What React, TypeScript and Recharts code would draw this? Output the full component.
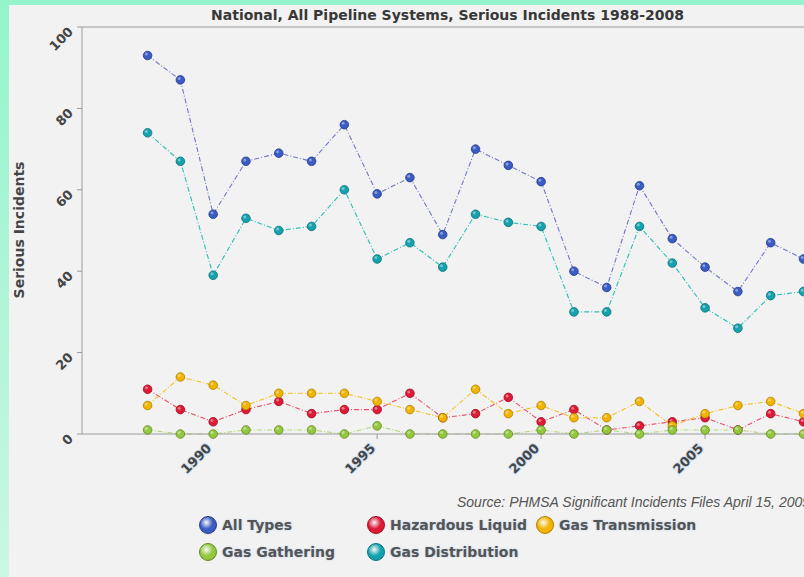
import { LineChart, Line, XAxis, YAxis, ReferenceLine } from 'recharts'

const years = [1988, 1989, 1990, 1991, 1992, 1993, 1994, 1995, 1996, 1997, 1998, 1999, 2000, 2001, 2002, 2003, 2004, 2005, 2006, 2007, 2008]
const allTypes = [93, 87, 54, 67, 69, 67, 76, 59, 63, 49, 70, 66, 62, 40, 36, 61, 48, 41, 35, 47, 43]
const hazardousLiquid = [11, 6, 3, 6, 8, 5, 6, 6, 10, 4, 5, 9, 3, 6, 1, 2, 3, 4, 1, 5, 3]
const gasTransmission = [7, 14, 12, 7, 10, 10, 10, 8, 6, 4, 11, 5, 7, 4, 4, 8, 2, 5, 7, 8, 5]
const gasGathering = [1, 0, 0, 1, 1, 1, 0, 2, 0, 0, 0, 0, 1, 0, 1, 0, 1, 1, 1, 0, 0]
const gasDistribution = [74, 67, 39, 53, 50, 51, 60, 43, 47, 41, 54, 52, 51, 30, 30, 51, 42, 31, 26, 34, 35]
const xTicks = [1990, 1995, 2000, 2005]
const yTicks = [0, 20, 40, 60, 80, 100]

const series = [
  { key: 'allTypes', name: 'All Types', line: '#6f78c8', fill: '#3a5cc4', edge: '#22388c' },
  { key: 'hazardousLiquid', name: 'Hazardous Liquid', line: '#ea4d66', fill: '#de1a36', edge: '#9a0c20' },
  { key: 'gasTransmission', name: 'Gas Transmission', line: '#f5c126', fill: '#f2b400', edge: '#b07f00' },
  { key: 'gasGathering', name: 'Gas Gathering', line: '#b3da7c', fill: '#93c83e', edge: '#5f8a20' },
  { key: 'gasDistribution', name: 'Gas Distribution', line: '#2bbfb5', fill: '#14a3ae', edge: '#0a6e78' },
]

const data = years.map((year, i) => ({
  year,
  allTypes: allTypes[i],
  hazardousLiquid: hazardousLiquid[i],
  gasTransmission: gasTransmission[i],
  gasGathering: gasGathering[i],
  gasDistribution: gasDistribution[i],
}))

const font = '"DejaVu Sans", sans-serif'
const textColor = '#454545'

function makeDot(fill: string, edge: string) {
  return (props: any) => {
    const { cx, cy, index } = props
    if (cx == null || cy == null) return <g key={index} />
    return (
      <g key={index}>
        <circle cx={cx} cy={cy} r={4.3} fill={fill} stroke={edge} strokeWidth={0.8} />
        <circle cx={cx - 1.2} cy={cy - 1.4} r={1.5} fill="#fff" opacity={0.4} />
      </g>
    )
  }
}

function YTick(props: any) {
  const { x, y, payload } = props
  const ax = x - 1
  const ay = y + 5.5
  return (
    <text x={ax} y={ay} transform={`rotate(-45 ${ax} ${ay})`} textAnchor="end"
      fontFamily={font} fontWeight="bold" fontSize={13} fill={textColor}>
      {payload.value}
    </text>
  )
}

function XTick(props: any) {
  const { x, y, payload } = props
  const ax = x - 1
  const ay = y + 8
  return (
    <text x={ax} y={ay} transform={`rotate(-45 ${ax} ${ay})`} textAnchor="end"
      fontFamily={font} fontWeight="bold" fontSize={13} fill={textColor}
      stroke="#cfe0f2" strokeWidth={2} paintOrder="stroke">
      {payload.value}
    </text>
  )
}

const legendRows = [
  [series[0], series[1], series[2]],
  [series[3], series[4]],
]
const legendX = [190, 358, 527]

export default function App() {
  return (
    <div style={{
      position: 'absolute', left: 0, top: 0, width: 804, height: 577, overflow: 'hidden',
      background: 'linear-gradient(180deg, #94f5cc 0%, #b4f5da 60%, #c9f7e4 100%)',
    }}>
      <div style={{ position: 'absolute', left: 9, top: 5, width: 840, height: 600, background: '#f2f2f2' }}>
        <LineChart width={830} height={572} data={data} margin={{ top: 22, right: 27, left: 0, bottom: 83 }}>
          <XAxis dataKey="year" type="number" domain={[1986, 2008.26]} ticks={xTicks} interval={0}
            axisLine={{ stroke: '#9a9a9a' }} tickLine={{ stroke: '#9a9a9a' }} tickSize={5}
            height={60} tick={<XTick />} allowDataOverflow />
          <YAxis domain={[0, 100]} ticks={yTicks} interval={0} width={73}
            axisLine={{ stroke: '#9a9a9a' }} tickLine={{ stroke: '#9a9a9a' }} tickSize={5}
            tick={<YTick />} />
          <ReferenceLine y={100} stroke="#9a9a9a" />
          {series.map((s) => (
            <Line key={s.key} dataKey={s.key} name={s.name} type="linear" stroke={s.line}
              strokeWidth={1.1} strokeDasharray="5 2 1 2" dot={makeDot(s.fill, s.edge)}
              activeDot={false} isAnimationActive={false} />
          ))}
        </LineChart>
        <svg width={840} height={600} style={{ position: 'absolute', left: 0, top: 0, pointerEvents: 'none' }}>
          <text x={438.5} y={15} textAnchor="middle" fontFamily={font} fontWeight="bold" fontSize={14} fill="#383838">
            National, All Pipeline Systems, Serious Incidents 1988-2008
          </text>
          <text x={10} y={225} transform="rotate(-90 10 225)" textAnchor="middle" dominantBaseline="central"
            fontFamily={font} fontWeight="bold" fontSize={14} fill={textColor}>
            Serious Incidents
          </text>
          <text x={448} y={502} fontFamily='"Liberation Sans", Arial, sans-serif' fontStyle="italic" fontSize={14} fill="#555">
            Source: PHMSA Significant Incidents Files April 15, 2009
          </text>
        </svg>
        {legendRows.map((row, r) => row.map((s, c) => (
          <div key={s.key} style={{
            position: 'absolute', left: legendX[c], top: 511 + r * 27, height: 18,
            display: 'flex', alignItems: 'center', whiteSpace: 'nowrap',
          }}>
            <span style={{
              display: 'inline-block', width: 16, height: 16, borderRadius: '50%',
              background: `radial-gradient(circle at 40% 35%, #ffffff88 0%, ${s.fill} 45%, ${s.fill} 70%, ${s.edge} 100%)`,
              border: `1px solid ${s.edge}`,
            }} />
            <span style={{
              marginLeft: 5, fontFamily: font, fontWeight: 'bold', fontSize: 14, color: '#555',
              textShadow: '0 0 2px rgba(140,175,225,0.6)',
            }}>{s.name}</span>
          </div>
        )))}
      </div>
    </div>
  )
}
